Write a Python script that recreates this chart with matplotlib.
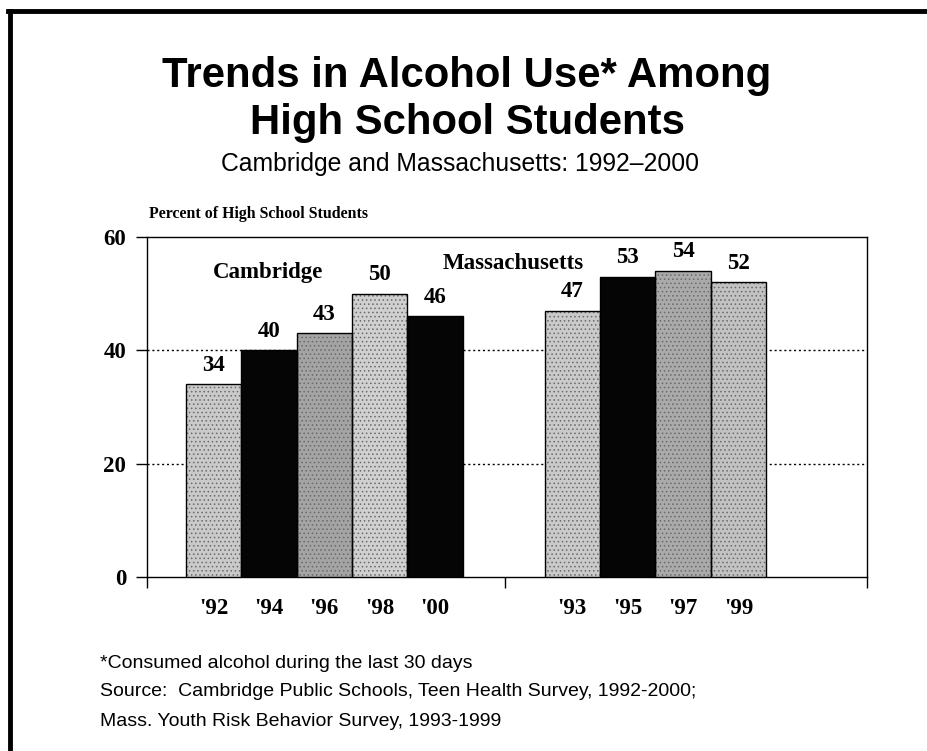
import numpy as np
import matplotlib.pyplot as plt
from matplotlib.lines import Line2D

# survey years and percent who drank in the last 30 days
cam_years = ["'92", "'94", "'96", "'98", "'00"]
cam_values = [34, 40, 43, 50, 46]
mass_years = ["'93", "'95", "'97", "'99"]
mass_values = [47, 53, 54, 52]

cam_colors = ['#cacaca', '#050505', '#a4a4a4', '#d0d0d0', '#050505']
mass_colors = ['#cacaca', '#050505', '#aaaaaa', '#c2c2c2']

fig = plt.figure(figsize=(9.27, 7.51), dpi=100)
ax = fig.add_axes([147/927, 1 - 577/751, 720/927, 340/751])

cam_x = np.arange(len(cam_values)) + 1.2
mass_x = np.arange(len(mass_values)) + 7.68

serif = 'Liberation Serif'
sans = 'Liberation Sans'
lab_size = 16.5

plt.rcParams['hatch.linewidth'] = 0.6

for xs, vals, cols in [(cam_x, cam_values, cam_colors), (mass_x, mass_values, mass_colors)]:
    # stippled fill, then a plain black outline on top
    for x, v, c in zip(xs, vals, cols):
        dark = c == '#050505'
        ax.bar(x, v, width=1.0, color=c, edgecolor='#6a6a6a', linewidth=0,
               hatch=None if dark else '....', zorder=3)
    ax.bar(xs, vals, width=1.0, fill=False, edgecolor='black', linewidth=1.0, zorder=4)
    for x, v in zip(xs, vals):
        ax.text(x, v + 3.4, str(v), ha='center', va='center', family=serif,
                fontweight='bold', fontsize=lab_size)

ax.set_xlim(0, 13)
ax.set_ylim(0, 60)
ax.set_yticks([0, 20, 40, 60])
ax.set_yticklabels(['0', '20', '40', '60'], family=serif, fontweight='bold',
                   fontsize=lab_size)
ax.tick_params(axis='y', direction='out', length=8, width=1, pad=7)

# category boundaries carry the ticks; year labels sit under each bar
ax.set_xticks([0, 6.46, 13])
ax.set_xticklabels([])
ax.tick_params(axis='x', direction='out', length=8, width=1)
for x, lab in zip(list(cam_x) + list(mass_x), cam_years + mass_years):
    ax.text(x, -5.6, lab, ha='center', va='center', family=serif, fontweight='bold',
            fontsize=lab_size)

for y in [20, 40]:
    ax.axhline(y, color='black', linestyle=(0, (1.5, 2)), linewidth=1.0, zorder=1)

for s in ax.spines.values():
    s.set_linewidth(1.0)

ax.text(2.18, 53.8, 'Cambridge', ha='center', va='center', family=serif,
        fontweight='bold', fontsize=lab_size)
ax.text(6.61, 55.4, 'Massachusetts', ha='center', va='center', family=serif,
        fontweight='bold', fontsize=lab_size)

# headings
fig.text(467/927, 1 - 76/751, 'Trends in Alcohol Use* Among', ha='center', va='center',
         family=sans, fontweight='bold', fontsize=30.2)
fig.text(467/927, 1 - 123/751, 'High School Students', ha='center', va='center',
         family=sans, fontweight='bold', fontsize=30.2)
fig.text(460/927, 1 - 164/751, 'Cambridge and Massachusetts: 1992\u20132000', ha='center',
         va='center', family=sans, fontsize=17.8)
fig.text(149/927, 1 - 214/751, 'Percent of High School Students', ha='left', va='center',
         family=serif, fontweight='bold', fontsize=11.4)

# footnotes
notes = ['*Consumed alcohol during the last 30 days',
         'Source:  Cambridge Public Schools, Teen Health Survey, 1992-2000;',
         'Mass. Youth Risk Behavior Survey, 1993-1999']
for i, t in enumerate(notes):
    fig.text(100/927, 1 - (663 + 29 * i)/751, t, ha='left', va='center', family=sans,
             fontsize=14)

# page frame: left and top edges
fig.add_artist(Line2D([10/927, 10/927], [0, 1 - 11/751], transform=fig.transFigure,
                      color='black', linewidth=3.5))
fig.add_artist(Line2D([8/927, 1], [1 - 11/751, 1 - 11/751], transform=fig.transFigure,
                      color='black', linewidth=3.5))

fig.savefig('out.png', dpi=100)
